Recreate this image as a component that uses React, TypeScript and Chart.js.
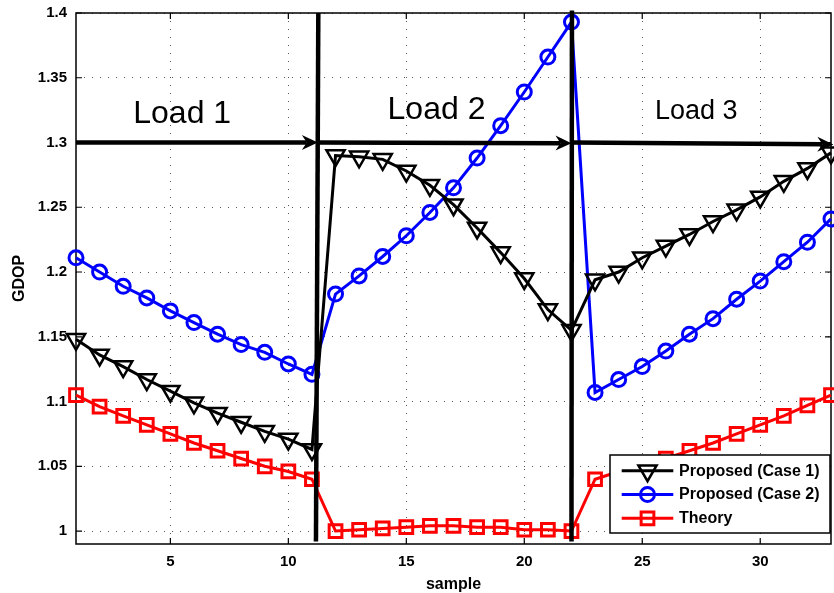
import React, { useEffect, useRef } from 'react';
import { Chart, registerables } from 'chart.js';

Chart.register(...registerables);

const samples = [1, 2, 3, 4, 5, 6, 7, 8, 9, 10, 11, 12, 13, 14, 15, 16, 17, 18, 19, 20, 21, 22, 23, 24, 25, 26, 27, 28, 29, 30, 31, 32, 33];
const case1 = [1.148, 1.136, 1.127, 1.117, 1.108, 1.099, 1.091, 1.084, 1.077, 1.071, 1.063, 1.290, 1.289, 1.287, 1.278, 1.267, 1.252, 1.234, 1.215, 1.195, 1.171, 1.155, 1.194, 1.200, 1.211, 1.220, 1.229, 1.239, 1.248, 1.258, 1.270, 1.280, 1.292];
const case2 = [1.211, 1.200, 1.189, 1.180, 1.170, 1.161, 1.152, 1.144, 1.138, 1.129, 1.121, 1.183, 1.197, 1.212, 1.228, 1.246, 1.265, 1.288, 1.313, 1.339, 1.366, 1.393, 1.107, 1.117, 1.127, 1.139, 1.152, 1.164, 1.179, 1.193, 1.208, 1.223, 1.241];
const theory = [1.105, 1.096, 1.089, 1.082, 1.075, 1.068, 1.062, 1.056, 1.050, 1.046, 1.040, 1.000, 1.001, 1.002, 1.003, 1.004, 1.004, 1.003, 1.003, 1.001, 1.001, 1.000, 1.040, 1.046, 1.050, 1.056, 1.062, 1.068, 1.075, 1.082, 1.089, 1.097, 1.105];

const xTicks = [5, 10, 15, 20, 25, 30];
const yTicks = [1, 1.05, 1.1, 1.15, 1.2, 1.25, 1.3, 1.35, 1.4];
const seriesNames = ['Proposed (Case 1)', 'Proposed (Case 2)', 'Theory'];

const loadNames = ['Load 1', 'Load 2', 'Load 3'];
const loadX = [5.5, 16.28, 27.29];
const loadY = [1.315, 1.318, 1.318];

const dividerBottom = [[11.17, 0.992], [22.0, 0.992]];
const dividerTop = [[11.27, 1.4], [22.02, 1.402]];
const arrowStart = [[1, 1.3], [11.27, 1.3], [22.0, 1.3]];
const arrowEnd = [[11.25, 1.3], [22.0, 1.2995], [33.1, 1.2985]];

const FONT = '"Liberation Sans", Arial, Helvetica, sans-serif';

type Marker = 'triangleDown' | 'circle' | 'rect';

function drawMarker(ctx: CanvasRenderingContext2D, style: Marker, x: number, y: number, r: number) {
  ctx.beginPath();
  if (style === 'triangleDown') {
    for (let k = 0; k < 3; k++) {
      const ang = Math.PI + (k * 2 * Math.PI) / 3;
      const px = x + Math.sin(ang) * r;
      const py = y - Math.cos(ang) * r;
      if (k === 0) ctx.moveTo(px, py);
      else ctx.lineTo(px, py);
    }
    ctx.closePath();
  } else if (style === 'circle') {
    ctx.arc(x, y, r, 0, Math.PI * 2);
  } else {
    const s = r * Math.SQRT1_2;
    ctx.rect(x - s, y - s, 2 * s, 2 * s);
  }
  ctx.stroke();
}

const framePlugin = {
  id: 'frame',
  beforeDatasetsDraw(chart: any) {
    const { ctx, chartArea: a, scales } = chart;
    const xs = scales.x;
    const ys = scales.y;
    ctx.save();
    ctx.strokeStyle = '#000';
    ctx.lineWidth = 1.5;
    ctx.strokeRect(a.left, a.top, a.right - a.left, a.bottom - a.top);
    ctx.lineWidth = 1.2;
    ctx.beginPath();
    for (const v of xTicks) {
      const px = xs.getPixelForValue(v);
      ctx.moveTo(px, a.bottom);
      ctx.lineTo(px, a.bottom - 6);
      ctx.moveTo(px, a.top);
      ctx.lineTo(px, a.top + 6);
    }
    for (const v of yTicks) {
      const py = ys.getPixelForValue(v);
      ctx.moveTo(a.left, py);
      ctx.lineTo(a.left + 6, py);
      ctx.moveTo(a.right, py);
      ctx.lineTo(a.right - 6, py);
    }
    ctx.stroke();
    ctx.restore();
  },
};

const annotationPlugin = {
  id: 'annot',
  afterDatasetsDraw(chart: any) {
    const { ctx, scales } = chart;
    const xs = scales.x;
    const ys = scales.y;
    ctx.save();
    ctx.strokeStyle = '#000';
    ctx.fillStyle = '#000';
    ctx.lineWidth = 4.5;
    ctx.lineCap = 'butt';
    for (let i = 0; i < dividerBottom.length; i++) {
      ctx.beginPath();
      ctx.moveTo(xs.getPixelForValue(dividerBottom[i][0]), ys.getPixelForValue(dividerBottom[i][1]));
      ctx.lineTo(xs.getPixelForValue(dividerTop[i][0]), ys.getPixelForValue(dividerTop[i][1]));
      ctx.stroke();
    }
    for (let i = 0; i < arrowStart.length; i++) {
      const x0 = xs.getPixelForValue(arrowStart[i][0]);
      const y0 = ys.getPixelForValue(arrowStart[i][1]);
      const x1 = xs.getPixelForValue(arrowEnd[i][0]);
      const y1 = ys.getPixelForValue(arrowEnd[i][1]);
      const ang = Math.atan2(y1 - y0, x1 - x0);
      const L = 16, W = 7.5, N = 11;
      ctx.beginPath();
      ctx.moveTo(x0, y0);
      ctx.lineTo(x1 - Math.cos(ang) * N, y1 - Math.sin(ang) * N);
      ctx.stroke();
      ctx.save();
      ctx.translate(x1, y1);
      ctx.rotate(ang);
      ctx.beginPath();
      ctx.moveTo(0, 0);
      ctx.lineTo(-L, -W);
      ctx.lineTo(-N, 0);
      ctx.lineTo(-L, W);
      ctx.closePath();
      ctx.fill();
      ctx.restore();
    }
    ctx.textAlign = 'center';
    ctx.textBaseline = 'alphabetic';
    const sizes = [32, 32, 27];
    for (let i = 0; i < loadNames.length; i++) {
      ctx.font = `${sizes[i]}px ${FONT}`;
      ctx.fillText(loadNames[i], xs.getPixelForValue(loadX[i]), ys.getPixelForValue(loadY[i]));
    }
    ctx.restore();
  },
  afterDraw(chart: any) {
    const { ctx, chartArea: a } = chart;
    const bx1 = a.right - 1;
    const by1 = a.bottom - 11;
    const bw = 220;
    const bh = 78;
    const bx0 = bx1 - bw;
    const by0 = by1 - bh;
    ctx.save();
    ctx.fillStyle = '#fff';
    ctx.fillRect(bx0, by0, bw, bh);
    ctx.strokeStyle = '#000';
    ctx.lineWidth = 1.5;
    ctx.strokeRect(bx0, by0, bw, bh);
    const markers: Marker[] = ['triangleDown', 'circle', 'rect'];
    chart.data.datasets.forEach((ds: any, i: number) => {
      const ry = by0 + 15.7 + i * 23.8;
      ctx.strokeStyle = ds.borderColor;
      ctx.lineWidth = ds.borderWidth;
      ctx.beginPath();
      ctx.moveTo(bx0 + 11.7, ry);
      ctx.lineTo(bx0 + 63.3, ry);
      ctx.stroke();
      ctx.lineWidth = ds.pointBorderWidth;
      drawMarker(ctx, markers[i], bx0 + 37.5, ry, ds.pointRadius);
      ctx.fillStyle = '#000';
      ctx.font = `bold 16px ${FONT}`;
      ctx.textAlign = 'left';
      ctx.textBaseline = 'middle';
      ctx.fillText(ds.label, bx0 + 69, ry + 0.5);
    });
    ctx.restore();
  },
};

const mk = (vals: number[]) => vals.map((v, i) => ({ x: samples[i], y: v }));

const zeroPad = (s: any) => {
  s.paddingLeft = 0;
  s.paddingRight = 0;
  s.paddingTop = 0;
  s.paddingBottom = 0;
};

export default function App() {
  const ref = useRef<HTMLCanvasElement | null>(null);
  useEffect(() => {
    document.body.style.margin = '0';
    const canvas = ref.current;
    if (!canvas) return;
    const chart = new Chart(canvas, {
      type: 'line',
      data: {
        datasets: [
          {
            label: seriesNames[0],
            data: mk(case1),
            borderColor: '#000000',
            backgroundColor: 'rgba(0,0,0,0)',
            borderWidth: 3,
            pointStyle: 'triangle',
            rotation: 180,
            pointRadius: 10.5,
            pointBorderWidth: 2.5,
            pointBorderColor: '#000000',
            pointBackgroundColor: 'rgba(0,0,0,0)',
            clip: false,
            tension: 0,
          } as any,
          {
            label: seriesNames[1],
            data: mk(case2),
            borderColor: '#0000ff',
            backgroundColor: 'rgba(0,0,0,0)',
            borderWidth: 3,
            pointStyle: 'circle',
            pointRadius: 7,
            pointBorderWidth: 3,
            pointBorderColor: '#0000ff',
            pointBackgroundColor: 'rgba(0,0,0,0)',
            clip: false,
            tension: 0,
          } as any,
          {
            label: seriesNames[2],
            data: mk(theory),
            borderColor: '#ff0000',
            backgroundColor: 'rgba(0,0,0,0)',
            borderWidth: 3,
            pointStyle: 'rect',
            pointRadius: 9,
            pointBorderWidth: 3,
            pointBorderColor: '#ff0000',
            pointBackgroundColor: 'rgba(0,0,0,0)',
            clip: false,
            tension: 0,
          } as any,
        ],
      },
      options: {
        animation: false,
        responsive: false,
        maintainAspectRatio: false,
        layout: { autoPadding: false, padding: { top: 13, right: 3, left: 0, bottom: 0 } },
        plugins: { legend: { display: false }, tooltip: { enabled: false } },
        scales: {
          x: {
            type: 'linear',
            min: 1,
            max: 33,
            afterBuildTicks: (s: any) => {
              s.ticks = xTicks.map((v) => ({ value: v }));
            },
            afterFit: (s: any) => {
              s.height = 49;
              zeroPad(s);
            },
            grid: { color: '#555', lineWidth: 1, drawTicks: false },
            border: { display: false, dash: [1, 7] },
            ticks: {
              color: '#000',
              font: { family: FONT, size: 15, weight: 'bold' },
              padding: 9,
              maxRotation: 0,
              autoSkip: false,
              callback: (v: any) => String(v),
            },
            title: {
              display: true,
              text: 'sample',
              color: '#000',
              font: { family: FONT, size: 16, weight: 'bold' },
              padding: { top: 0, bottom: -1.5 },
            },
          },
          y: {
            type: 'linear',
            min: 0.99,
            max: 1.4,
            afterBuildTicks: (s: any) => {
              s.ticks = yTicks.map((v) => ({ value: v }));
            },
            afterFit: (s: any) => {
              s.width = 76;
              zeroPad(s);
            },
            grid: { color: '#555', lineWidth: 1, drawTicks: false },
            border: { display: false, dash: [1, 7] },
            ticks: {
              color: '#000',
              font: { family: FONT, size: 15, weight: 'bold' },
              padding: 9,
              autoSkip: false,
              callback: (v: any) => String(Number(Number(v).toFixed(2))),
            },
            title: {
              display: true,
              text: 'GDOP',
              color: '#000',
              font: { family: FONT, size: 16, weight: 'bold' },
              padding: { top: 9.6, bottom: 0 },
            },
          },
        },
      } as any,
      plugins: [framePlugin, annotationPlugin],
    });
    return () => chart.destroy();
  }, []);
  return <canvas ref={ref} width={834} height={593} style={{ display: 'block' }} />;
}
